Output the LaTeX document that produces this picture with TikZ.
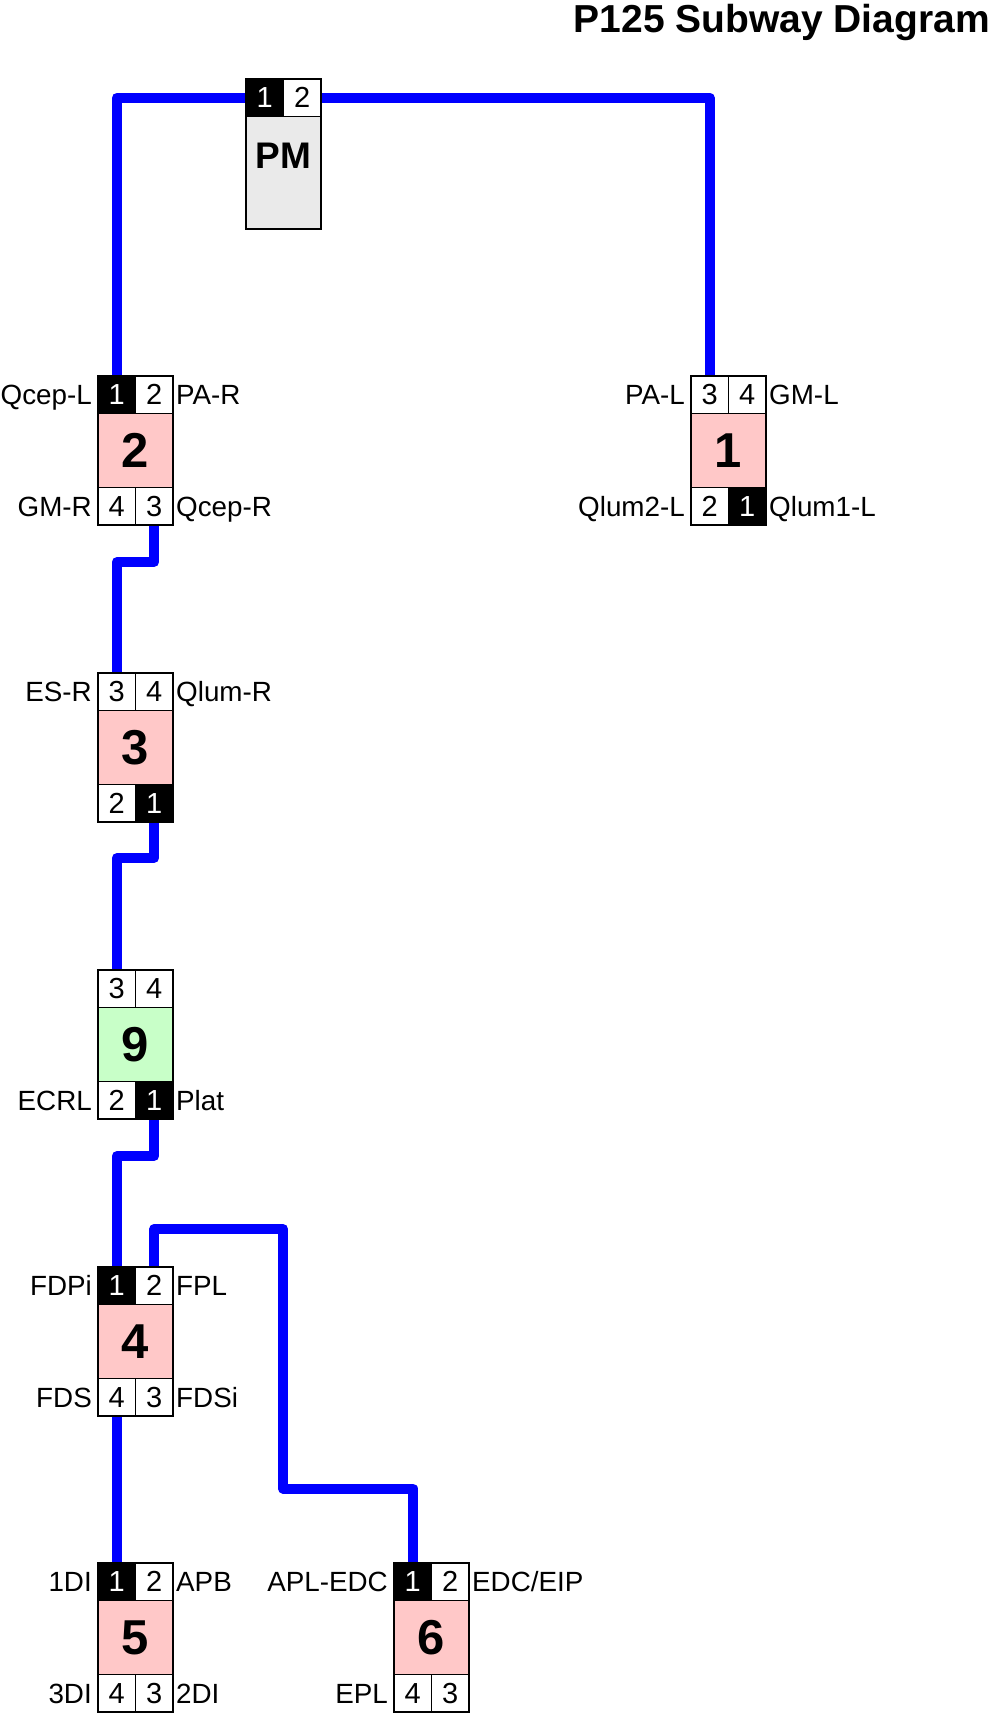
\documentclass[tikz,border=0pt]{standalone}
\usepackage{fontspec}
\setmainfont{Liberation Sans}
\pgfdeclarelayer{background}
\pgfsetlayers{background,main}
\definecolor{linkblue}{RGB}{0,0,255}
\definecolor{bodypink}{RGB}{255,200,200}
\definecolor{bodygreen}{RGB}{200,255,200}
\definecolor{pmgray}{RGB}{234,234,234}
\newcommand\subbox[5]{\node[body, fill=#4, anchor=north west] (#1) at (#2,#3) {#5};}
\newcommand\portrow[9]{%
  \node[#2, anchor=south west] (#1tl) at (#1.north west) {#3};
  \node[#4, anchor=south east] (#1tr) at (#1.north east) {#5};
  \node[#6, anchor=north west] (#1bl) at (#1.south west) {#7};
  \node[#8, anchor=north east] (#1br) at (#1.south east) {#9};}
\begin{document}
\begin{tikzpicture}[x=1pt,y=-1pt,
  port/.style={draw=black, line width=1.5pt, minimum width=37.5pt, minimum height=37.5pt, inner sep=0pt, outer sep=0pt, font=\fontsize{29}{32}\selectfont},
  pblk/.style={port, fill=black, text=white},
  pwht/.style={port, fill=white},
  body/.style={draw=black, line width=1.5pt, minimum width=75pt, minimum height=74pt, inner sep=0pt, outer sep=0pt, font=\bfseries\fontsize{49}{52}\selectfont},
  lbl/.style={inner sep=0pt, font=\fontsize{27.8}{30}\selectfont, text height=20pt, text depth=0pt},
  link/.style={draw=linkblue, line width=10pt, line join=round}]
\useasboundingbox (0,0) rectangle (992,1716);
\node[font=\bfseries\fontsize{39}{40}\selectfont, anchor=base east, inner sep=0pt] (title) at (990,32) {P125 Subway Diagram};
% PM
\node[draw=black, line width=1.5pt, fill=pmgray, minimum width=75pt, minimum height=112.5pt, inner sep=0pt, outer sep=0pt, anchor=north west] (pm) at (246,116.5) {};
\node[pblk, anchor=south west] (pmtl) at (pm.north west) {1};
\node[pwht, anchor=south east] (pmtr) at (pm.north east) {2};
\node[font=\bfseries\fontsize{37}{40}\selectfont, inner sep=0pt] (pmtext) at (283.5,156) {PM};
% units
\subbox{n2}{98}{413.5}{bodypink}{2}
\portrow{n2}{pblk}{1}{pwht}{2}{pwht}{4}{pwht}{3}
\subbox{n1}{691}{413.5}{bodypink}{1}
\portrow{n1}{pwht}{3}{pwht}{4}{pwht}{2}{pblk}{1}
\subbox{n3}{98}{710.5}{bodypink}{3}
\portrow{n3}{pwht}{3}{pwht}{4}{pwht}{2}{pblk}{1}
\subbox{n9}{98}{1007.5}{bodygreen}{9}
\portrow{n9}{pwht}{3}{pwht}{4}{pwht}{2}{pblk}{1}
\subbox{n4}{98}{1304.5}{bodypink}{4}
\portrow{n4}{pblk}{1}{pwht}{2}{pwht}{4}{pwht}{3}
\subbox{n5}{98}{1600.5}{bodypink}{5}
\portrow{n5}{pblk}{1}{pwht}{2}{pwht}{4}{pwht}{3}
\subbox{n6}{394}{1600.5}{bodypink}{6}
\portrow{n6}{pblk}{1}{pwht}{2}{pwht}{4}{pwht}{3}
% labels
\node[lbl, anchor=east] (l2tl) at ([xshift=-6pt]n2tl.west) {Qcep-L};
\node[lbl, anchor=west] (l2tr) at ([xshift=3pt]n2tr.east) {PA-R};
\node[lbl, anchor=east] (l2bl) at ([xshift=-6pt]n2bl.west) {GM-R};
\node[lbl, anchor=west] (l2br) at ([xshift=3pt]n2br.east) {Qcep-R};
\node[lbl, anchor=east] (l1tl) at ([xshift=-6pt]n1tl.west) {PA-L};
\node[lbl, anchor=west] (l1tr) at ([xshift=3pt]n1tr.east) {GM-L};
\node[lbl, anchor=east] (l1bl) at ([xshift=-6pt]n1bl.west) {Qlum2-L};
\node[lbl, anchor=west] (l1br) at ([xshift=3pt]n1br.east) {Qlum1-L};
\node[lbl, anchor=east] (l3tl) at ([xshift=-6pt]n3tl.west) {ES-R};
\node[lbl, anchor=west] (l3tr) at ([xshift=3pt]n3tr.east) {Qlum-R};
\node[lbl, anchor=east] (l9bl) at ([xshift=-6pt]n9bl.west) {ECRL};
\node[lbl, anchor=west] (l9br) at ([xshift=3pt]n9br.east) {Plat};
\node[lbl, anchor=east] (l4tl) at ([xshift=-6pt]n4tl.west) {FDPi};
\node[lbl, anchor=west] (l4tr) at ([xshift=3pt]n4tr.east) {FPL};
\node[lbl, anchor=east] (l4bl) at ([xshift=-6pt]n4bl.west) {FDS};
\node[lbl, anchor=west] (l4br) at ([xshift=3pt]n4br.east) {FDSi};
\node[lbl, anchor=east] (l5tl) at ([xshift=-6pt]n5tl.west) {1DI};
\node[lbl, anchor=west] (l5tr) at ([xshift=3pt]n5tr.east) {APB};
\node[lbl, anchor=east] (l5bl) at ([xshift=-6pt]n5bl.west) {3DI};
\node[lbl, anchor=west] (l5br) at ([xshift=3pt]n5br.east) {2DI};
\node[lbl, anchor=east] (l6tl) at ([xshift=-6pt]n6tl.west) {APL-EDC};
\node[lbl, anchor=west] (l6tr) at ([xshift=3pt]n6tr.east) {EDC/EIP};
\node[lbl, anchor=east] (l6bl) at ([xshift=-6pt]n6bl.west) {EPL};
% links
\coordinate (c1) at (283,1229);
\coordinate (c2) at (412.75,1488.5);
\begin{pgfonlayer}{background}
\draw[link] (pmtl.center) -| (n2tl.center);
\draw[link] (pmtr.center) -| (n1tl.center);
\draw[link] (n2br.center) -- ++(0,55.75) -| (n3tl.center);
\draw[link] (n3br.center) -- ++(0,54.75) -| (n9tl.center);
\draw[link] (n9br.center) -- ++(0,55.75) -| (n4tl.center);
\draw[link] (n4tr.center) |- (c1) |- (c2) -- (n6tl.center);
\draw[link] (n4bl.center) -- (n5tl.center);
\end{pgfonlayer}
\end{tikzpicture}
\end{document}
